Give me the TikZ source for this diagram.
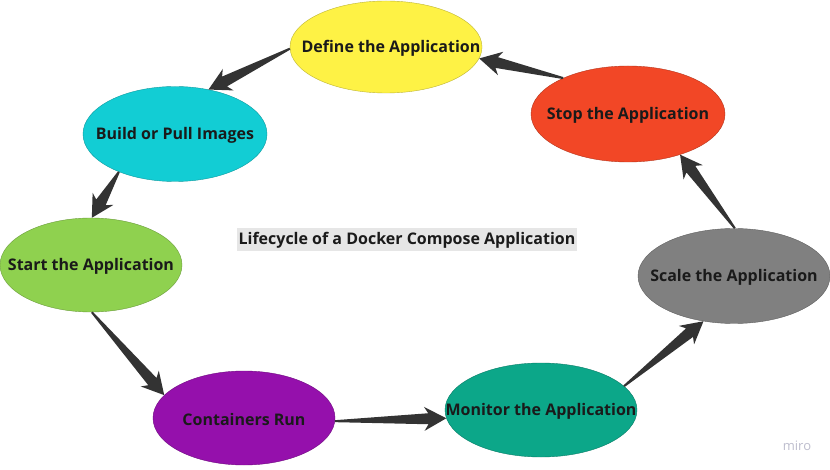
\documentclass[tikz,border=0pt]{standalone}
\usepackage{fontspec}
\setmainfont{Open Sans}
\usetikzlibrary{shapes.geometric,calc}
\definecolor{cyel}{RGB}{254,242,69}
\definecolor{ccyan}{RGB}{18,205,212}
\definecolor{cgreen}{RGB}{143,209,79}
\definecolor{cpurp}{RGB}{149,16,172}
\definecolor{cteal}{RGB}{12,167,137}
\definecolor{cgray}{RGB}{128,128,128}
\definecolor{cred}{RGB}{242,71,38}
\definecolor{carrow}{RGB}{51,51,51}
\definecolor{ctext}{RGB}{26,26,26}
\definecolor{ctitle}{RGB}{230,230,230}
\definecolor{cmiro}{RGB}{190,190,206}
\tikzset{
  stage/.style={ellipse, inner sep=0pt, draw=#1!75!black, line width=0.4pt, fill=#1,
    minimum width=190pt, minimum height=94pt},
  stagetext/.style={text=ctext, font=\fontsize{16}{18}\selectfont\bfseries, inner sep=0pt, yshift=-1.5pt},
}
\newcommand{\taperarrow}[2]{%
  \path (#1) coordinate (ts) (#2) coordinate (te);
  \path ($(te)!18pt!(ts)$) coordinate (hb) ($(te)!22pt!(ts)$) coordinate (bb);
  \fill[carrow] ($(ts)!1pt!90:(te)$) -- ($(hb)!5.5pt!90:(te)$) -- ($(bb)!12pt!90:(te)$)
    -- (te) -- ($(bb)!12pt!-90:(te)$) -- ($(hb)!5.5pt!-90:(te)$) -- ($(ts)!1pt!-90:(te)$) -- cycle;
}
\begin{document}
\begin{tikzpicture}[x=1pt,y=-1pt]
\useasboundingbox[fill=white] (0,0) rectangle (830,470);
\node[stage=cyel, minimum width=192pt, minimum height=92pt,
  label={[stagetext,xshift=5pt]center:Define the Application}] (def) at (386,47) {};
\node[stage=ccyan, minimum width=184pt, minimum height=95pt,
  label={[stagetext]center:Build or Pull Images}] (bld) at (175,134) {};
\node[stage=cgreen, minimum width=182pt, minimum height=94pt,
  label={[stagetext]center:Start the Application}] (sta) at (91,265) {};
\node[stage=cpurp, minimum width=182pt, minimum height=94pt,
  label={[stagetext]center:Containers Run}] (con) at (244,418) {};
\node[stage=cteal, minimum width=192pt, minimum height=94pt,
  label={[stagetext]center:Monitor the Application}] (mon) at (541,410) {};
\node[stage=cgray, minimum width=192pt, minimum height=95pt,
  label={[stagetext]center:Scale the Application}] (scl) at (734,276) {};
\node[stage=cred, minimum width=194pt, minimum height=96pt,
  label={[stagetext]center:Stop the Application}] (stp) at (628,114) {};
\node[fill=ctitle, text=ctext, font=\fontsize{16}{18}\selectfont\bfseries,
  minimum width=340pt, minimum height=23pt, inner sep=1pt] (title) at (407,240)
  {Lifecycle of a Docker Compose Application};
\node[text=cmiro, font=\fontsize{13}{15}\selectfont, inner sep=0pt] (miro) at (797,446) {miro};
\taperarrow{def.181}{bld.53}
\taperarrow{bld.214}{sta.89}
\taperarrow{sta.271}{con.164}
\taperarrow{con.358}{mon.185}
\taperarrow{mon.16}{scl.236}
\taperarrow{scl.89}{stp.322}
\taperarrow{stp.151}{def.353}
\end{tikzpicture}
\end{document}
